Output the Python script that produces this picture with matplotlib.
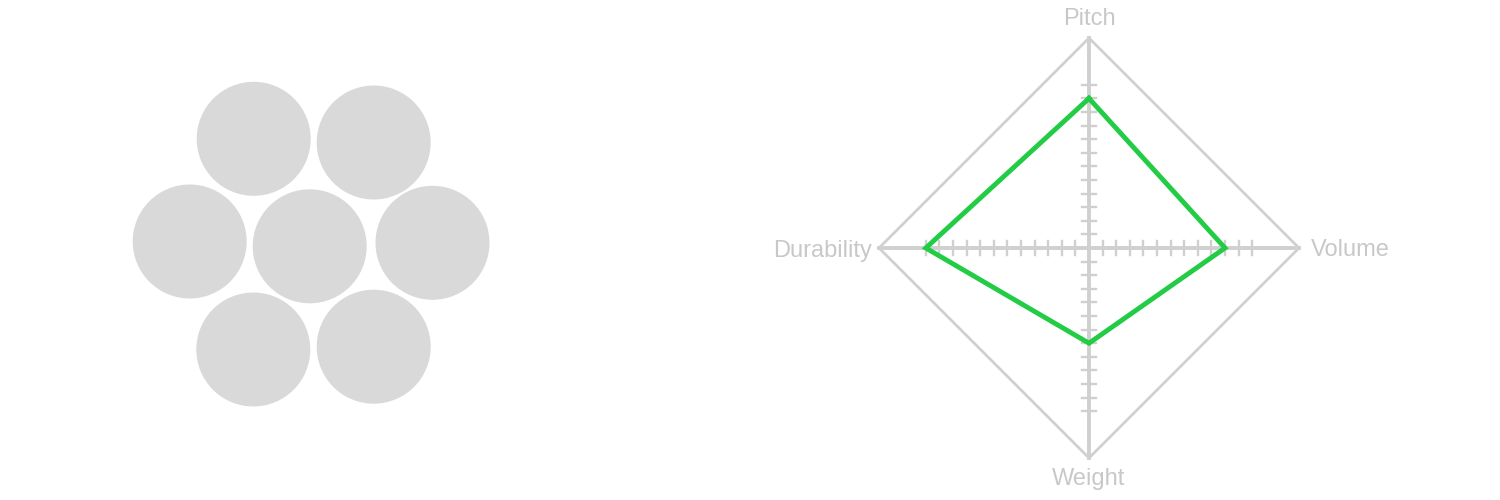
import numpy as np
import matplotlib
matplotlib.use("Agg")
import matplotlib.pyplot as plt
from matplotlib.patches import Circle

plt.rcParams['font.family'] = ['Liberation Sans', 'DejaVu Sans']

# left panel: packed circles (centres and radius in pixels of the left panel)
circle_x = [253.7, 373.7, 189.7, 309.7, 432.5, 253.3, 373.7]
circle_y = [138.8, 142.5, 241.5, 246.3, 242.8, 349.5, 346.7]
circle_r = [57, 57, 57, 57, 57, 57, 57]

# right panel: radar chart
radar_labels = ["Pitch", "Volume", "Weight", "Durability"]
radar_values = [11, 10, 7, 12]
tick_values = list(range(1, 13))
radar_max = 15.44

grey = "#d0d0d0"
green = "#22cc44"

fig = plt.figure(figsize=(15, 5), dpi=100)

# ---- circles
ax1 = fig.add_axes([0, 0, 0.5, 1])
for x, y, r in zip(circle_x, circle_y, circle_r):
    ax1.add_patch(Circle((x, y), r, facecolor="#d9d9d9", edgecolor="none"))
ax1.set_xlim(0, 750)
ax1.set_ylim(500, 0)
ax1.axis("off")

# ---- radar
px = 13.6  # pixels per unit
half = 250 / px
cx, cy = 1089, 248
ax2 = fig.add_axes([(cx - 250) / 1500, (500 - cy - 250) / 500, 500 / 1500, 500 / 500])
ax2.set_xlim(-half, half)
ax2.set_ylim(-half, half)
ax2.axis("off")

# axis directions: up, right, down, left
angles = np.array([90, 0, 270, 180]) * np.pi / 180
dx = np.cos(angles)
dy = np.sin(angles)

# outer diamond
ox = np.append(dx * radar_max, dx[0] * radar_max)
oy = np.append(dy * radar_max, dy[0] * radar_max)
ax2.plot(ox, oy, color=grey, lw=2.0, solid_joinstyle="miter", zorder=1)

# spokes
for i in range(4):
    ax2.plot([0, dx[i] * radar_max], [0, dy[i] * radar_max], color=grey, lw=2.8, zorder=1)
    tl = 0.55
    for t in tick_values:
        x0, y0 = dx[i] * t, dy[i] * t
        ax2.plot([x0 - dy[i] * tl, x0 + dy[i] * tl], [y0 - dx[i] * tl, y0 + dx[i] * tl],
                 color=grey, lw=1.7, zorder=1)

# data polygon
vals = np.array(radar_values, dtype=float)
px_ = np.append(dx * vals, dx[0] * vals[0])
py_ = np.append(dy * vals, dy[0] * vals[0])
ax2.plot(px_, py_, color=green, lw=3.5, solid_joinstyle="miter", zorder=3)

# labels
lab_col = "#c8c8c8"
fs = 17
ax2.text(0, 16.4, radar_labels[0], ha="center", va="baseline", fontsize=fs, color=lab_col)
ax2.text(16.3, 0, radar_labels[1], ha="left", va="center_baseline", fontsize=fs, color=lab_col)
ax2.text(0, -16.2, radar_labels[2], ha="center", va="top", fontsize=fs, color=lab_col)
ax2.text(-15.96, 0, radar_labels[3], ha="right", va="center_baseline", fontsize=fs, color=lab_col)

fig.savefig("out.png", dpi=100)
